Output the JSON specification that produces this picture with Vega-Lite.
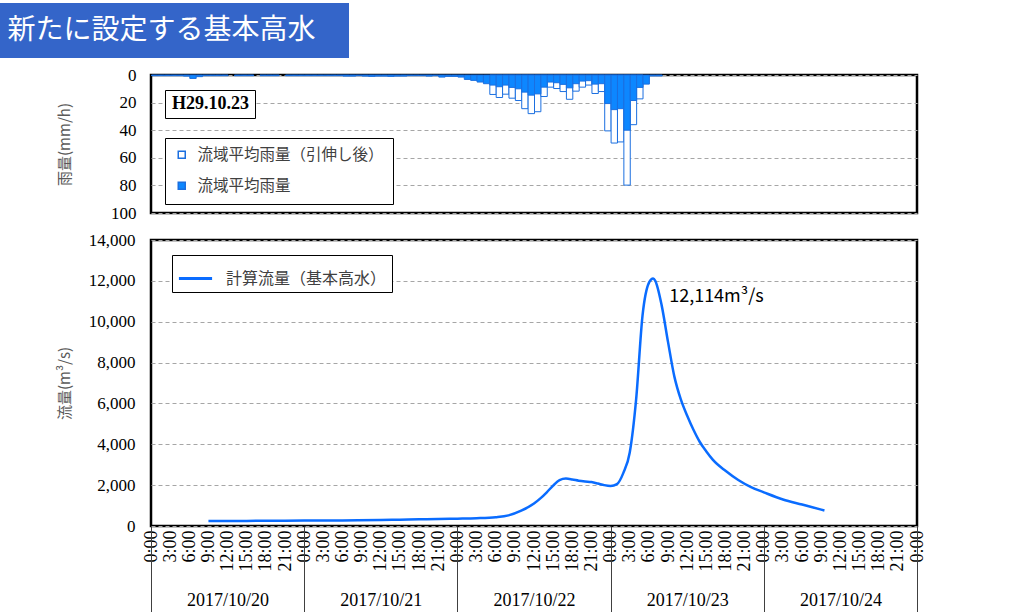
{
  "$schema": "https://vega.github.io/schema/vega-lite/v6.json",
  "background": "white",
  "padding": {"left": 0, "top": 3, "right": 0, "bottom": 0},
  "spacing": 6,
  "config": {
    "view": {"stroke": "black", "strokeWidth": 2.5},
    "axis": {"gridColor": "#A6A6A6", "gridDash": [4, 3], "gridWidth": 1}
  },
  "datasets": {
    "extended": [
      {"t": "2017-10-22T05:00", "v": 14.1}, {"t": "2017-10-22T06:00", "v": 16.3},
      {"t": "2017-10-22T07:00", "v": 13.9}, {"t": "2017-10-22T08:00", "v": 16.8},
      {"t": "2017-10-22T09:00", "v": 18.5}, {"t": "2017-10-22T10:00", "v": 24.4},
      {"t": "2017-10-22T11:00", "v": 28.0}, {"t": "2017-10-22T12:00", "v": 26.6},
      {"t": "2017-10-22T13:00", "v": 15.6}, {"t": "2017-10-22T14:00", "v": 8.8},
      {"t": "2017-10-22T15:00", "v": 9.8}, {"t": "2017-10-22T16:00", "v": 12.0},
      {"t": "2017-10-22T17:00", "v": 17.6}, {"t": "2017-10-22T18:00", "v": 11.7},
      {"t": "2017-10-22T19:00", "v": 8.8}, {"t": "2017-10-22T20:00", "v": 7.3},
      {"t": "2017-10-22T21:00", "v": 13.4}, {"t": "2017-10-22T22:00", "v": 12.0},
      {"t": "2017-10-22T23:00", "v": 40.5}, {"t": "2017-10-23T00:00", "v": 49.3},
      {"t": "2017-10-23T01:00", "v": 48.5}, {"t": "2017-10-23T02:00", "v": 79.8},
      {"t": "2017-10-23T03:00", "v": 36.0}, {"t": "2017-10-23T04:00", "v": 17.3}
    ],
    "basin": [
      {"t": "2017-10-20T00:00", "v": 0.5}, {"t": "2017-10-20T01:00", "v": 0.5},
      {"t": "2017-10-20T02:00", "v": 0.5}, {"t": "2017-10-20T03:00", "v": 0.5},
      {"t": "2017-10-20T04:00", "v": 0.5}, {"t": "2017-10-20T05:00", "v": 0.8},
      {"t": "2017-10-20T06:00", "v": 2.5}, {"t": "2017-10-20T07:00", "v": 1.2},
      {"t": "2017-10-20T08:00", "v": 0.5}, {"t": "2017-10-20T09:00", "v": 0.5},
      {"t": "2017-10-20T10:00", "v": 0.5}, {"t": "2017-10-20T11:00", "v": 0.5},
      {"t": "2017-10-20T13:00", "v": 0.5}, {"t": "2017-10-20T14:00", "v": 0.5},
      {"t": "2017-10-20T15:00", "v": 0.5}, {"t": "2017-10-20T17:00", "v": 0.5},
      {"t": "2017-10-20T18:00", "v": 0.5}, {"t": "2017-10-20T19:00", "v": 0.5},
      {"t": "2017-10-20T21:00", "v": 0.5}, {"t": "2017-10-20T22:00", "v": 0.5},
      {"t": "2017-10-20T23:00", "v": 0.5}, {"t": "2017-10-21T00:00", "v": 0.5},
      {"t": "2017-10-21T01:00", "v": 0.5}, {"t": "2017-10-21T02:00", "v": 0.5},
      {"t": "2017-10-21T03:00", "v": 0.5}, {"t": "2017-10-21T04:00", "v": 0.5},
      {"t": "2017-10-21T05:00", "v": 0.5}, {"t": "2017-10-21T06:00", "v": 0.8},
      {"t": "2017-10-21T07:00", "v": 0.8}, {"t": "2017-10-21T08:00", "v": 0.5},
      {"t": "2017-10-21T09:00", "v": 0.8}, {"t": "2017-10-21T10:00", "v": 1.0},
      {"t": "2017-10-21T11:00", "v": 0.8}, {"t": "2017-10-21T12:00", "v": 0.8},
      {"t": "2017-10-21T13:00", "v": 1.0}, {"t": "2017-10-21T14:00", "v": 0.8},
      {"t": "2017-10-21T15:00", "v": 0.8}, {"t": "2017-10-21T16:00", "v": 0.5},
      {"t": "2017-10-21T17:00", "v": 0.5}, {"t": "2017-10-21T18:00", "v": 0.5},
      {"t": "2017-10-21T19:00", "v": 0.8}, {"t": "2017-10-21T20:00", "v": 0.5},
      {"t": "2017-10-21T21:00", "v": 1.5}, {"t": "2017-10-21T22:00", "v": 1.0},
      {"t": "2017-10-21T23:00", "v": 1.0}, {"t": "2017-10-22T00:00", "v": 1.5},
      {"t": "2017-10-22T01:00", "v": 3.2}, {"t": "2017-10-22T02:00", "v": 3.9},
      {"t": "2017-10-22T03:00", "v": 5.1}, {"t": "2017-10-22T04:00", "v": 6.3},
      {"t": "2017-10-22T05:00", "v": 7.3}, {"t": "2017-10-22T06:00", "v": 8.5},
      {"t": "2017-10-22T07:00", "v": 7.3}, {"t": "2017-10-22T08:00", "v": 9.0},
      {"t": "2017-10-22T09:00", "v": 10.0}, {"t": "2017-10-22T10:00", "v": 12.4},
      {"t": "2017-10-22T11:00", "v": 14.6}, {"t": "2017-10-22T12:00", "v": 13.7},
      {"t": "2017-10-22T13:00", "v": 8.8}, {"t": "2017-10-22T14:00", "v": 5.1},
      {"t": "2017-10-22T15:00", "v": 5.6}, {"t": "2017-10-22T16:00", "v": 6.8},
      {"t": "2017-10-22T17:00", "v": 9.3}, {"t": "2017-10-22T18:00", "v": 6.3},
      {"t": "2017-10-22T19:00", "v": 4.4}, {"t": "2017-10-22T20:00", "v": 4.1},
      {"t": "2017-10-22T21:00", "v": 6.6}, {"t": "2017-10-22T22:00", "v": 6.3},
      {"t": "2017-10-22T23:00", "v": 20.7}, {"t": "2017-10-23T00:00", "v": 25.1},
      {"t": "2017-10-23T01:00", "v": 24.4}, {"t": "2017-10-23T02:00", "v": 40.0},
      {"t": "2017-10-23T03:00", "v": 18.5}, {"t": "2017-10-23T04:00", "v": 9.0},
      {"t": "2017-10-23T05:00", "v": 6.6}, {"t": "2017-10-23T06:00", "v": 0.7},
      {"t": "2017-10-23T07:00", "v": 0.7}
    ],
    "flow": [
      {"t": "2017-10-20T09:00", "q": 240}, {"t": "2017-10-20T12:00", "q": 245},
      {"t": "2017-10-20T18:00", "q": 255}, {"t": "2017-10-21T00:00", "q": 265},
      {"t": "2017-10-21T06:00", "q": 275}, {"t": "2017-10-21T12:00", "q": 290},
      {"t": "2017-10-21T15:00", "q": 310}, {"t": "2017-10-21T18:00", "q": 330},
      {"t": "2017-10-21T21:00", "q": 345}, {"t": "2017-10-22T00:00", "q": 360},
      {"t": "2017-10-22T03:00", "q": 380}, {"t": "2017-10-22T06:00", "q": 430},
      {"t": "2017-10-22T08:00", "q": 520}, {"t": "2017-10-22T10:00", "q": 750},
      {"t": "2017-10-22T12:00", "q": 1100}, {"t": "2017-10-22T13:00", "q": 1350},
      {"t": "2017-10-22T14:00", "q": 1650}, {"t": "2017-10-22T15:00", "q": 1980},
      {"t": "2017-10-22T16:00", "q": 2250}, {"t": "2017-10-22T17:00", "q": 2320},
      {"t": "2017-10-22T18:00", "q": 2280}, {"t": "2017-10-22T19:00", "q": 2220},
      {"t": "2017-10-22T20:00", "q": 2180}, {"t": "2017-10-22T21:00", "q": 2150},
      {"t": "2017-10-22T22:00", "q": 2080}, {"t": "2017-10-22T23:00", "q": 2000},
      {"t": "2017-10-23T00:00", "q": 1960}, {"t": "2017-10-23T01:00", "q": 2050},
      {"t": "2017-10-23T02:00", "q": 2600}, {"t": "2017-10-23T03:00", "q": 3600},
      {"t": "2017-10-23T04:00", "q": 6200}, {"t": "2017-10-23T05:00", "q": 10300},
      {"t": "2017-10-23T06:00", "q": 11900}, {"t": "2017-10-23T06:40", "q": 12114},
      {"t": "2017-10-23T07:00", "q": 12000}, {"t": "2017-10-23T08:00", "q": 10800},
      {"t": "2017-10-23T09:00", "q": 9000}, {"t": "2017-10-23T10:00", "q": 7300},
      {"t": "2017-10-23T11:00", "q": 6200}, {"t": "2017-10-23T12:00", "q": 5400},
      {"t": "2017-10-23T13:00", "q": 4700}, {"t": "2017-10-23T14:00", "q": 4100},
      {"t": "2017-10-23T15:00", "q": 3650}, {"t": "2017-10-23T16:00", "q": 3250},
      {"t": "2017-10-23T18:00", "q": 2700}, {"t": "2017-10-23T20:00", "q": 2250},
      {"t": "2017-10-23T22:00", "q": 1900}, {"t": "2017-10-24T00:00", "q": 1650},
      {"t": "2017-10-24T03:00", "q": 1300}, {"t": "2017-10-24T06:00", "q": 1050},
      {"t": "2017-10-24T09:00", "q": 800}, {"t": "2017-10-24T09:30", "q": 760}
    ]
  },
  "vconcat": [
    {
      "width": 349,
      "height": 55,
      "view": {"fill": "#3465C9", "stroke": null},
      "data": {"values": [{"title": "新たに設定する基本高水"}]},
      "mark": {"type": "text", "font": "Noto Sans CJK JP", "fontSize": 28, "color": "white", "align": "center", "baseline": "middle", "dx": -13},
      "encoding": {"text": {"field": "title", "type": "nominal"}}
    },
    {
      "spacing": 0,
      "hconcat": [
        {
          "width": 56,
          "height": 10,
          "view": {"stroke": null},
          "data": {"values": [{"a": 1}]},
          "mark": {"type": "point", "opacity": 0}
        },
        {
          "spacing": 6,
          "vconcat": [
            {
              "width": 766,
              "height": 138,
              "layer": [
                {
                  "data": {"name": "extended"},
                  "mark": {"type": "bar", "stroke": "#1B6FE0", "strokeWidth": 1, "binSpacing": 0},
                  "encoding": {
                    "x": {"field": "t", "type": "temporal", "timeUnit": "yearmonthdatehours",
                          "scale": {"domain": [{"year": 2017, "month": 10, "date": 20, "hours": 0}, {"year": 2017, "month": 10, "date": 25, "hours": 0}]},
                          "axis": null},
                    "y": {"field": "v", "type": "quantitative", "stack": null,
                          "scale": {"domain": [0, 100], "reverse": true},
                          "axis": {"values": [0, 20, 40, 60, 80, 100], "title": "雨量(mm/h)", "titleFont": "Noto Sans CJK JP", "titleFontSize": 15, "titleFontWeight": "normal", "titleColor": "#595959", "titlePadding": 38, "labelFont": "Liberation Serif, DejaVu Serif, serif", "labelFontSize": 17, "labelColor": "black", "labelOverlap": false, "labelBound": false, "labelFlush": false, "labelSeparation": 0, "ticks": false, "domain": false, "labelPadding": 15, "grid": true}},
                    "fill": {"datum": "流域平均雨量（引伸し後）", "type": "nominal",
                             "scale": {"domain": ["流域平均雨量（引伸し後）", "流域平均雨量"], "range": ["white", "#0D87FF"]},
                             "legend": {"orient": "none", "legendX": 165, "legendY": 135, "title": null, "symbolType": "square", "symbolSize": 49, "labelFont": "Noto Sans CJK JP", "labelFontSize": 15.5, "labelLimit": 300, "labelColor": "#404040", "strokeColor": "black", "fillColor": "white", "padding": 9, "rowPadding": 14, "labelOffset": 8}}
                  }
                },
                {
                  "data": {"name": "basin"},
                  "mark": {"type": "bar", "stroke": "#1B6FE0", "strokeWidth": 1, "binSpacing": 0},
                  "encoding": {
                    "x": {"field": "t", "type": "temporal", "timeUnit": "yearmonthdatehours"},
                    "y": {"field": "v", "type": "quantitative", "stack": null,
                          "axis": {"values": [0, 20, 40, 60, 80, 100], "title": "雨量(mm/h)", "titleFont": "Noto Sans CJK JP", "titleFontSize": 15, "titleFontWeight": "normal", "titleColor": "#595959", "titlePadding": 38, "labelFont": "Liberation Serif, DejaVu Serif, serif", "labelFontSize": 17, "labelColor": "black", "labelOverlap": false, "labelBound": false, "labelFlush": false, "labelSeparation": 0, "ticks": false, "domain": false, "labelPadding": 15, "grid": true}},
                    "fill": {"datum": "流域平均雨量", "type": "nominal"}
                  }
                },
                {
                  "data": {"values": [{"ev": "H29.10.23"}]},
                  "mark": {"type": "point", "opacity": 0},
                  "encoding": {
                    "shape": {"field": "ev", "type": "nominal",
                              "legend": {"orient": "none", "legendX": 165, "legendY": 87, "title": null, "symbolSize": 1, "symbolOpacity": 0, "labelOffset": -16, "labelFont": "Liberation Serif, DejaVu Serif, serif", "labelFontSize": 18, "labelFontWeight": "bold", "labelColor": "black", "strokeColor": "black", "fillColor": "white", "padding": 5}}
                  }
                }
              ]
            },
            {
              "width": 766,
              "height": 286,
              "resolve": {"axis": {"x": "independent"}},
              "layer": [
                {
                  "data": {"name": "flow"},
                  "mark": {"type": "line", "interpolate": "monotone", "strokeWidth": 2.5},
                  "encoding": {
                    "x": {"field": "t", "type": "temporal",
                          "scale": {"domain": [{"year": 2017, "month": 10, "date": 20, "hours": 0}, {"year": 2017, "month": 10, "date": 25, "hours": 0}]},
                          "axis": {"orient": "bottom", "domain": false, "ticks": false, "grid": false, "tickCount": 40, "format": "%-H:%M", "labelAngle": -90, "labelFont": "Liberation Serif, DejaVu Serif, serif", "labelFontSize": 18, "labelColor": "black", "labelPadding": 4, "labelOverlap": false, "labelFlush": false, "title": null}},
                    "y": {"field": "q", "type": "quantitative",
                          "scale": {"domain": [0, 14000]},
                          "axis": {"values": [0, 2000, 4000, 6000, 8000, 10000, 12000, 14000], "format": ",.0f", "title": "流量(m³/s)", "titleFont": "Noto Sans CJK JP", "titleFontSize": 15, "titleFontWeight": "normal", "titleColor": "#595959", "titlePadding": 16, "labelFont": "Liberation Serif, DejaVu Serif, serif", "labelFontSize": 17, "labelColor": "black", "labelOverlap": false, "ticks": false, "domain": false, "labelPadding": 16, "grid": true}},
                    "color": {"datum": "計算流量（基本高水）", "type": "nominal",
                              "scale": {"range": ["#0A6CFF"]},
                              "legend": {"orient": "none", "legendX": 172, "legendY": 252, "title": null, "symbolType": "stroke", "symbolSize": 1100, "symbolStrokeWidth": 3, "labelFont": "Noto Sans CJK JP", "labelFontSize": 16, "labelLimit": 300, "labelColor": "#404040", "strokeColor": "black", "fillColor": "white", "padding": 5, "labelOffset": 12}}
                  }
                },
                {
                  "data": {"values": [{"t": "2017-10-23T06:40", "q": 12114, "label": "12,114m³/s"}]},
                  "mark": {"type": "text", "align": "left", "baseline": "middle", "dx": 16, "dy": 18, "font": "Noto Sans CJK JP", "fontSize": 18, "color": "black"},
                  "encoding": {
                    "x": {"field": "t", "type": "temporal",
                          "axis": {"orient": "bottom", "domain": false, "grid": false, "tickCount": 5, "tickSize": 86, "tickColor": "#404040", "tickWidth": 1, "format": "%Y/%m/%d", "labelOffset": 76.6, "labelPadding": -21, "labelAngle": 0, "labelBaseline": "top", "labelBound": true, "labelOverlap": true, "labelFont": "Liberation Serif, DejaVu Serif, serif", "labelFontSize": 18, "labelColor": "black", "labelFlush": false, "title": null}},
                    "y": {"field": "q", "type": "quantitative"},
                    "text": {"field": "label"}
                  }
                }
              ]
            }
          ]
        }
      ]
    }
  ]
}
